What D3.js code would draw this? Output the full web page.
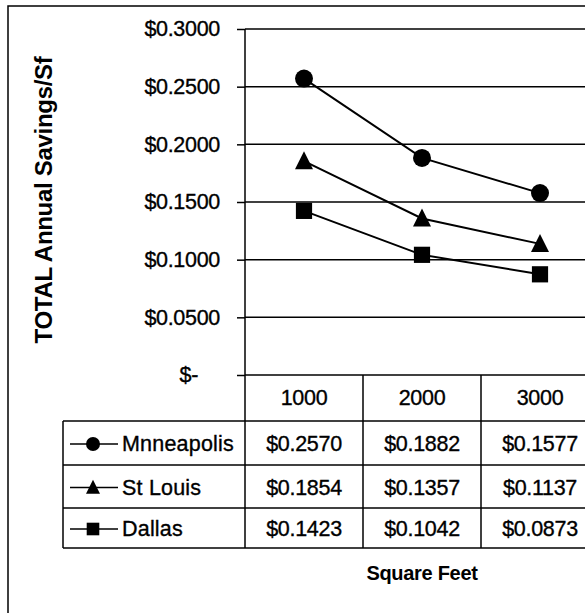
<!DOCTYPE html>
<html>
<head>
<meta charset="utf-8">
<script src="https://cdn.jsdelivr.net/npm/d3@7"></script>
<style>
  body { margin: 0; background: #fff; }
  text { font-family: "Liberation Sans", Arial, sans-serif; fill: #000; }
  .lbl { font-size: 21.5px; stroke: #000; stroke-width: 0.35px; letter-spacing: -0.3px; }
</style>
</head>
<body>
<div id="vis"></div>
<script>
// chart values
const sizes = ["1000", "2000", "3000"];
const cities = ["Mnneapolis", "St Louis", "Dallas"];
const minneapolis = [0.2570, 0.1882, 0.1577];
const stLouis = [0.1854, 0.1357, 0.1137];
const dallas = [0.1423, 0.1042, 0.0873];
const yTicks = [0, 0.05, 0.10, 0.15, 0.20, 0.25, 0.30];

const series = [
    {name: cities[0], values: minneapolis, marker: "circle"},
    {name: cities[1], values: stLouis, marker: "triangle"},
    {name: cities[2], values: dallas, marker: "square"}
];

let width = 585;
let height = 613;

var svg = d3.select("#vis")
    .append("svg")
    .attr("width", width)
    .attr("height", height);

// plot box
let plotLeft = 245, plotRight = 599, plotTop = 29, plotBottom = 375;
let tableLeft = 63;
let rowLines = [421, 465, 508, 548];

var x = d3.scalePoint()
    .domain(sizes)
    .range([plotLeft, plotRight])
    .padding(0.5);

var colW = x.step();

var y = d3.scaleLinear()
    .domain([0, 0.3])
    .range([plotBottom, plotTop]);

// outer frame
svg.append("rect")
    .attr("x", 8).attr("y", 6)
    .attr("width", 700).attr("height", 700)
    .attr("fill", "none")
    .attr("stroke", "#000")
    .attr("stroke-width", 1.5);

// gridlines
svg.selectAll(".grid")
    .data(yTicks)
    .enter().append("line")
    .attr("x1", plotLeft).attr("x2", width)
    .attr("y1", d => y(d)).attr("y2", d => y(d))
    .attr("stroke", "#000")
    .attr("stroke-width", 1.5);

// y axis
var yAxis = d3.axisLeft(y)
    .tickValues(yTicks)
    .tickSize(8)
    .tickPadding(17)
    .tickFormat(d => d === 0 ? "$-" : "$" + d3.format(".4f")(d));

var yg = svg.append("g")
    .attr("transform", "translate(" + plotLeft + ",0)")
    .call(yAxis);
yg.select(".domain").remove();
yg.attr("font-size", null).attr("font-family", null);
yg.selectAll(".tick line").attr("stroke", "#000").attr("stroke-width", 1.5);
yg.selectAll(".tick text")
    .attr("class", "lbl")
    .attr("fill", "#000");
yg.selectAll(".tick text").filter(d => d === 0).attr("dx", -22);

// vertical axis line continuing through the table
svg.append("line")
    .attr("x1", plotLeft).attr("x2", plotLeft)
    .attr("y1", plotTop).attr("y2", rowLines[3])
    .attr("stroke", "#000").attr("stroke-width", 1.5);

// table column separators
svg.selectAll(".colsep")
    .data(sizes.slice(1))
    .enter().append("line")
    .attr("x1", d => x(d) - colW / 2).attr("x2", d => x(d) - colW / 2)
    .attr("y1", plotBottom).attr("y2", rowLines[3])
    .attr("stroke", "#000").attr("stroke-width", 1.5);

// table row lines
svg.selectAll(".rowline")
    .data(rowLines)
    .enter().append("line")
    .attr("x1", tableLeft).attr("x2", width)
    .attr("y1", d => d).attr("y2", d => d)
    .attr("stroke", "#000").attr("stroke-width", 1.5);

svg.append("line")
    .attr("x1", tableLeft).attr("x2", tableLeft)
    .attr("y1", rowLines[0]).attr("y2", rowLines[3])
    .attr("stroke", "#000").attr("stroke-width", 1.5);

// header labels
svg.selectAll(".hdr")
    .data(sizes)
    .enter().append("text")
    .attr("class", "lbl")
    .attr("x", d => x(d))
    .attr("y", (plotBottom + rowLines[0]) / 2)
    .attr("text-anchor", "middle")
    .attr("dominant-baseline", "central")
    .text(d => d);

function drawMarker(g, type, cx, cy, s) {
    if (type === "circle") {
        g.append("circle").attr("cx", cx).attr("cy", cy).attr("r", s).attr("fill", "#000");
    } else if (type === "triangle") {
        var h = s * 2;
        g.append("path")
            .attr("d", "M" + cx + "," + (cy - h * 0.55) + "L" + (cx + s) + "," + (cy + h * 0.45) + "L" + (cx - s) + "," + (cy + h * 0.45) + "Z")
            .attr("fill", "#000");
    } else {
        g.append("rect").attr("x", cx - s * 0.9).attr("y", cy - s * 0.9)
            .attr("width", s * 1.8).attr("height", s * 1.8).attr("fill", "#000");
    }
}

var line = d3.line()
    .x((d, i) => x(sizes[i]))
    .y(d => y(d));

series.forEach(function (s, si) {
    var g = svg.append("g");
    g.append("path")
        .attr("d", line(s.values))
        .attr("fill", "none")
        .attr("stroke", "#000")
        .attr("stroke-width", 2);
    s.values.forEach(function (v, i) {
        drawMarker(g, s.marker, x(sizes[i]), y(v), 9);
    });

    // table row
    var rowMid = (rowLines[si] + rowLines[si + 1]) / 2 + 1;
    g.append("line")
        .attr("x1", 70).attr("x2", 118)
        .attr("y1", rowMid).attr("y2", rowMid)
        .attr("stroke", "#000").attr("stroke-width", 1.5);
    drawMarker(g, s.marker, 93, rowMid, 7);
    g.append("text")
        .attr("class", "lbl")
        .attr("x", 122)
        .attr("y", rowMid)
        .attr("dominant-baseline", "central")
        .style("letter-spacing", "0.2px")
        .text(s.name);
    s.values.forEach(function (v, i) {
        g.append("text")
            .attr("class", "lbl")
            .attr("x", x(sizes[i]))
            .attr("y", rowMid)
            .attr("text-anchor", "middle")
            .attr("dominant-baseline", "central")
            .text("$" + d3.format(".4f")(v));
    });
});

// axis titles
svg.append("text")
    .attr("transform", "translate(52,200) rotate(-90)")
    .attr("text-anchor", "middle")
    .style("font-size", "24px")
    .style("font-weight", "bold")
    .style("letter-spacing", "-0.3px")
    .text("TOTAL Annual Savings/Sf");

svg.append("text")
    .attr("x", (plotLeft + plotRight) / 2)
    .attr("y", 573)
    .attr("text-anchor", "middle")
    .attr("dominant-baseline", "central")
    .style("font-size", "20px")
    .style("font-weight", "bold")
    .style("letter-spacing", "-0.3px")
    .text("Square Feet");
</script>
</body>
</html>
